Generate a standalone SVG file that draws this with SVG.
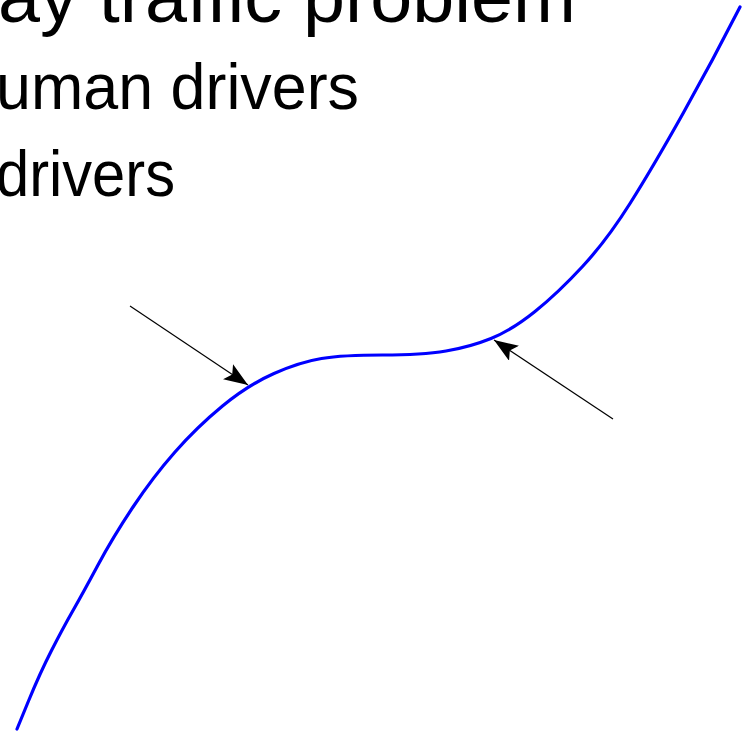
<svg xmlns="http://www.w3.org/2000/svg" width="753" height="733" viewBox="0 0 753 733">
  <style>
    .t { font-family: "Liberation Sans", Arial, sans-serif; fill: #000; }
    .conn { stroke: #000; stroke-width: 1.2; fill: none; }
    .curve { stroke: #0000ff; stroke-width: 3.2; fill: none; stroke-linejoin: round; stroke-linecap: round; }
  </style>
  <defs>
    <marker id="ah" markerUnits="userSpaceOnUse" markerWidth="26" markerHeight="20" refX="24" refY="9" orient="auto">
      <path d="M0,0 L24,9 L0,18 L5,9 Z" fill="#000"/>
    </marker>
  </defs>
  <rect width="753" height="733" fill="#fff"/>
  <g id="text">
    <text class="t" x="-2" y="22" font-size="74" textLength="578" lengthAdjust="spacingAndGlyphs">ay traffic problem</text>
    <text class="t" x="-4" y="109" font-size="65" textLength="363" lengthAdjust="spacingAndGlyphs">uman drivers</text>
    <text class="t" x="-4" y="196" font-size="65" textLength="179" lengthAdjust="spacingAndGlyphs">drivers</text>
  </g>
  <g id="curve">
    <path class="curve" d="M17,729 L28.5,701 Q40,673 51.5,650.5 Q63,628 73,610.5 Q83,593 98,565 Q113,537 133,507 Q153,477 175,452 Q197,427 222.5,406 Q248,385 274,373.5 Q300,362 321.5,358.5 Q343,355 382.5,355 Q422,355 446,351 Q470,347 491,338.5 Q512,330 535,311.5 Q558,293 582.5,266.5 Q607,240 630,203.5 Q653,167 683,113.5 Q713,60 740,7"/>
  </g>
  <g id="connectors">
    <line class="conn" x1="130" y1="306" x2="248" y2="385" marker-end="url(#ah)"/>
    <line class="conn" x1="613" y1="419" x2="494" y2="340" marker-end="url(#ah)"/>
  </g>
</svg>
